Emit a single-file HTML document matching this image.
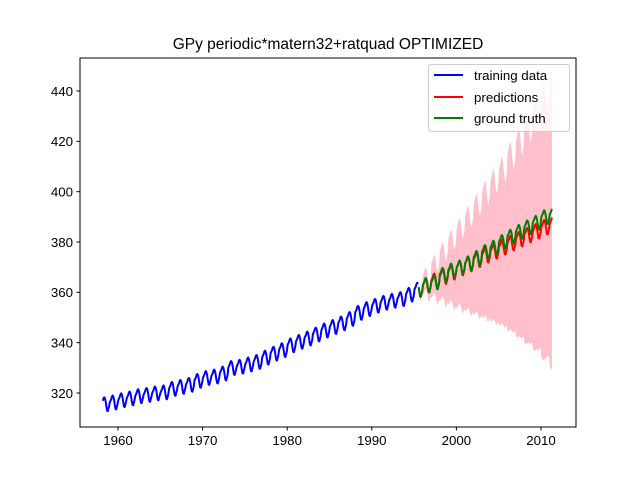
<!DOCTYPE html>
<html><head><meta charset="utf-8"><style>
body{margin:0;background:#fff}
svg{display:block;font-family:"Liberation Sans","DejaVu Sans",sans-serif}
</style></head><body>
<svg id="chart" width="640" height="480">
<defs><clipPath id="clip"><rect x="80" y="58" width="496" height="369"/></clipPath></defs>
<text x="328" y="49" text-anchor="middle" font-size="15.5">GPy periodic*matern32+ratquad OPTIMIZED</text>
<g id="plot" clip-path="url(#clip)"></g>
<rect x="80" y="58" width="496" height="369" fill="none" stroke="#000" stroke-width="1"/>
<g id="xt"></g>
<g id="yt"></g>
<g>
<rect x="428.5" y="64.5" width="141" height="67" rx="3" fill="#fff" fill-opacity="0.8" stroke="#ccc"/>
<g><line x1="434" y1="75" x2="463" y2="75" stroke="#0000ff" stroke-width="2"/><text x="474" y="80" font-size="13.3">training data</text></g>
<g><line x1="434" y1="97" x2="463" y2="97" stroke="#ff0000" stroke-width="2"/><text x="474" y="102" font-size="13.3">predictions</text></g>
<g><line x1="434" y1="118" x2="463" y2="118" stroke="#008000" stroke-width="2"/><text x="474" y="123" font-size="13.3">ground truth</text></g>
</g>
</svg>
<script>
const years=[1958,1959,1960,1961,1962,1963,1964,1965,1966,1967,1968,1969,1970,1971,1972,1973,1974,1975,1976,1977,1978,1979,1980,1981,1982,1983,1984,1985,1986,1987,1988,1989,1990,1991,1992,1993,1994,1995,1996,1997,1998,1999,2000,2001,2002,2003,2004,2005,2006,2007,2008,2009,2010,2011];
const annualMean=[315.3,316.0,316.9,317.6,318.5,319.0,319.6,320.0,321.4,322.2,323.0,324.6,325.7,326.3,327.5,329.7,330.2,331.1,332.1,333.8,335.4,336.8,338.7,340.1,341.4,343.0,344.6,346.0,347.4,349.2,351.6,353.1,354.4,355.6,356.4,357.1,358.8,360.8,362.6,363.7,366.7,368.4,369.7,371.3,373.5,375.8,377.5,379.8,381.9,383.8,385.6,387.4,389.6,390.6];
const seasonal=[0.4,1.0,1.6,2.6,3.0,2.5,1.2,-0.7,-2.3,-2.5,-1.4,-0.3];
const predYears=[1995,1996,1997,1998,1999,2000,2001,2002,2003,2004,2005,2006,2007,2008,2009,2010,2011];
const predMean=[360.8,362.5,364.3,366.0,367.7,369.4,371.0,372.7,374.4,376.0,377.6,379.3,380.9,382.5,384.0,385.6,387.0];
const predSigma=[1.5,4,7,10,13,16,19,22,25,28,31,35,39,43,47,52,57];
const sigmaSeason=[1.0,1.02,1.04,1.06,1.07,1.05,1.02,0.98,0.95,0.93,0.95,0.98];
const xTicks=[1960,1970,1980,1990,2000,2010];
const yTicks=[320,340,360,380,400,420,440];
const trainStart=[1958,2],splitAt=[1995,6],testEnd=[2011,3];

const X=v=>118+(v-1960)*8.46;
const Y=v=>393-(v-320)*2.5167;
const NS="http://www.w3.org/2000/svg";
function mk(t,a,p){const e=document.createElementNS(NS,t);for(const k in a)e.setAttribute(k,a[k]);p.appendChild(e);return e;}
function months(s,e){const r=[];for(let y=s[0];y<=e[0];y++)for(let m=0;m<12;m++){if(y===s[0]&&m<s[1])continue;if(y===e[0]&&m>e[1])break;r.push([y,m]);}return r;}
const plot=document.getElementById('plot');
const tr=months(trainStart,[1995,5]), te=months(splitAt,testEnd);
const truth=([y,m])=>annualMean[years.indexOf(y)]+seasonal[m];
const pm=([y,m])=>predMean[predYears.indexOf(y)]+seasonal[m]*1.05;
const ps=([y,m])=>predSigma[predYears.indexOf(y)]*sigmaSeason[m];
const tx=([y,m])=>y+(m+0.5)/12;
let up=te.map(p=>X(tx(p)).toFixed(1)+','+Y(pm(p)+ps(p)).toFixed(1));
let lo=te.slice().reverse().map(p=>X(tx(p)).toFixed(1)+','+Y(pm(p)-ps(p)).toFixed(1));
const band=mk('polygon',{points:up.concat(lo).join(' '),fill:'#ffc0cb',stroke:'none'},plot);


function line(arr,f,c,name){const el=mk('polyline',{points:arr.map(p=>X(tx(p)).toFixed(1)+','+Y(f(p)).toFixed(1)).join(' '),fill:'none',stroke:c,'stroke-width':2,'stroke-linejoin':'round'},plot);

}
line(tr,truth,'#0000ff','training-data-line');
line(te,pm,'#ff0000','predictions-line');
line(te,truth,'#008000','ground-truth-line');
const xt=document.getElementById('xt'),yt=document.getElementById('yt');
xTicks.forEach(v=>{const g=mk('g',{},xt);


mk('line',{x1:X(v),x2:X(v),y1:427,y2:430.5,stroke:'#000'},g);const t=mk('text',{x:X(v),y:445,'text-anchor':'middle','font-size':13.3},g);t.textContent=v;});
yTicks.forEach(v=>{const g=mk('g',{},yt);


mk('line',{x1:76.5,x2:80,y1:Y(v),y2:Y(v),stroke:'#000'},g);const t=mk('text',{x:73,y:Y(v)+4.8,'text-anchor':'end','font-size':13.3},g);t.textContent=v;});
</script>
</body></html>
